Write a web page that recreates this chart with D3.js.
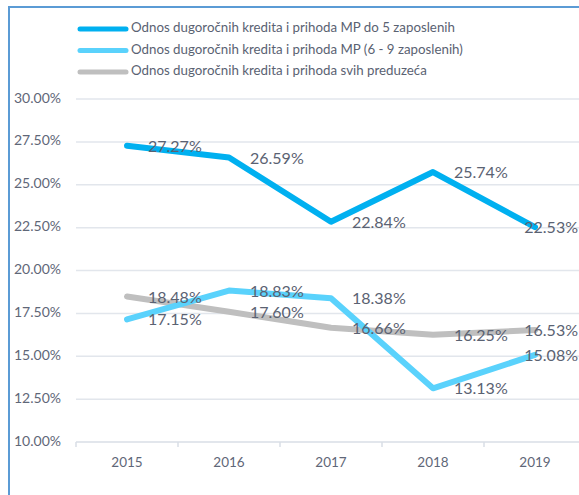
<!DOCTYPE html>
<html>
<head>
<meta charset="utf-8">
<script src="https://cdn.jsdelivr.net/npm/d3@7"></script>
<style>
  body { margin: 0; background: #fff; }
  svg { display: block; font-family: Lato, "Open Sans", sans-serif; }
</style>
</head>
<body>
<div id="chart"></div>
<script>
// data
var years = ["2015", "2016", "2017", "2018", "2019"]
var seriesNames = [
    "Odnos dugoročnih kredita i prihoda MP do 5 zaposlenih",
    "Odnos dugoročnih kredita i prihoda MP (6 - 9 zaposlenih)",
    "Odnos dugoročnih kredita i prihoda svih preduzeća"
]
var mp5 = [27.27, 26.59, 22.84, 25.74, 22.53]
var mp69 = [17.15, 18.83, 18.38, 13.13, 15.08]
var svih = [18.48, 17.60, 16.66, 16.25, 16.53]
var yTicks = [10, 12.5, 15, 17.5, 20, 22.5, 25, 27.5, 30]

var colors = ["#00b0f0", "#5ad2fc", "#bfbfbf"]
var allSeries = [mp5, mp69, svih]

var W = 579, H = 495
var margin = { left: 76, top: 99, right: -7, bottom: 53 }
var width = W - margin.left - margin.right,
    height = H - margin.top - margin.bottom

var svg = d3.select("#chart").append("svg")
    .attr("width", W)
    .attr("height", H)

// frame
svg.append("line")
    .attr("x1", 9).attr("x2", W)
    .attr("y1", 7).attr("y2", 7)
    .attr("stroke", "#5b9bd5").attr("stroke-width", 2)
svg.append("line")
    .attr("x1", 9).attr("x2", 9)
    .attr("y1", 6).attr("y2", H)
    .attr("stroke", "#5b9bd5").attr("stroke-width", 2)

var x = d3.scaleBand()
    .domain(years)
    .range([0, width])

var y = d3.scaleLinear()
    .domain([10, 30])
    .range([height, 0])

var chart = svg.append("g")
    .attr("transform", "translate(" + margin.left + "," + margin.top + ")")

// gridlines
chart.selectAll(".grid")
    .data(yTicks.slice(1))
    .enter()
        .append("line")
        .attr("class", "grid")
        .attr("x1", 0).attr("x2", width)
        .attr("y1", d => y(d)).attr("y2", d => y(d))
        .attr("stroke", "#e2e6ec")
        .attr("stroke-width", 1.5)

// y labels
chart.selectAll(".y-text")
    .data(yTicks)
    .enter()
        .append("text")
        .attr("class", "y-text")
        .attr("x", -15)
        .attr("y", d => y(d))
        .attr("dominant-baseline", "middle")
        .attr("text-anchor", "end")
        .attr("font-size", 14)
        .attr("fill", "#5f6778")
        .text(d => d.toFixed(2) + "%")

// x axis
var xAxis = chart.append("g")
    .attr("transform", "translate(0," + height + ")")
xAxis.append("line")
    .attr("x1", 0).attr("x2", width)
    .attr("stroke", "#d9dee6").attr("stroke-width", 1.5)
xAxis.selectAll(".tick-mark")
    .data(d3.range(years.length + 1))
    .enter()
        .append("line")
        .attr("x1", i => i * x.bandwidth()).attr("x2", i => i * x.bandwidth())
        .attr("y1", 0).attr("y2", 5)
        .attr("stroke", "#d9dee6").attr("stroke-width", 1.5)
xAxis.selectAll(".x-text")
    .data(years)
    .enter()
        .append("text")
        .attr("class", "x-text")
        .attr("x", d => x(d) + x.bandwidth() / 2)
        .attr("y", 22)
        .attr("dominant-baseline", "middle")
        .attr("text-anchor", "middle")
        .attr("font-size", 13.5)
        .attr("fill", "#5f6778")
        .text(d => d)

var line = d3.line()
    .x((d, i) => x(years[i]) + x.bandwidth() / 2)
    .y(d => y(d))

// draw grey first, then light blue, then dark blue on top
var order = [2, 1, 0]
order.forEach(function(k){
    chart.append("path")
        .datum(allSeries[k])
        .attr("d", line)
        .attr("fill", "none")
        .attr("stroke", colors[k])
        .attr("stroke-width", 6)
        .attr("stroke-linecap", "round")
        .attr("stroke-linejoin", "round")
})

// data labels (right of the point, last one pulled back inside the frame)
var lastIdx = years.length - 1
allSeries.forEach(function(s){
    chart.selectAll(null)
        .data(s)
        .enter()
            .append("text")
            .attr("x", (d, i) => i == lastIdx ? W - margin.left - 1 : x(years[i]) + x.bandwidth() / 2 + 21)
            .attr("y", d => y(d) + 2)
            .attr("text-anchor", (d, i) => i == lastIdx ? "end" : "start")
            .attr("dominant-baseline", "middle")
            .attr("font-size", 16)
            .attr("fill", "#5a6272")
            .text(d => d.toFixed(2) + "%")
})

// legend
var legend = svg.append("g")
    .attr("transform", "translate(78,29)")
seriesNames.forEach(function(name, i){
    var row = legend.append("g")
        .attr("transform", "translate(0," + (i * 21.5) + ")")
    row.append("line")
        .attr("x1", 2).attr("x2", 48)
        .attr("stroke", colors[i])
        .attr("stroke-width", 5)
        .attr("stroke-linecap", "round")
    row.append("text")
        .attr("x", 53)
        .attr("y", 0)
        .attr("dominant-baseline", "middle")
        .attr("font-size", 13.3)
        .attr("fill", "#5a6272")
        .text(name)
})
</script>
</body>
</html>
